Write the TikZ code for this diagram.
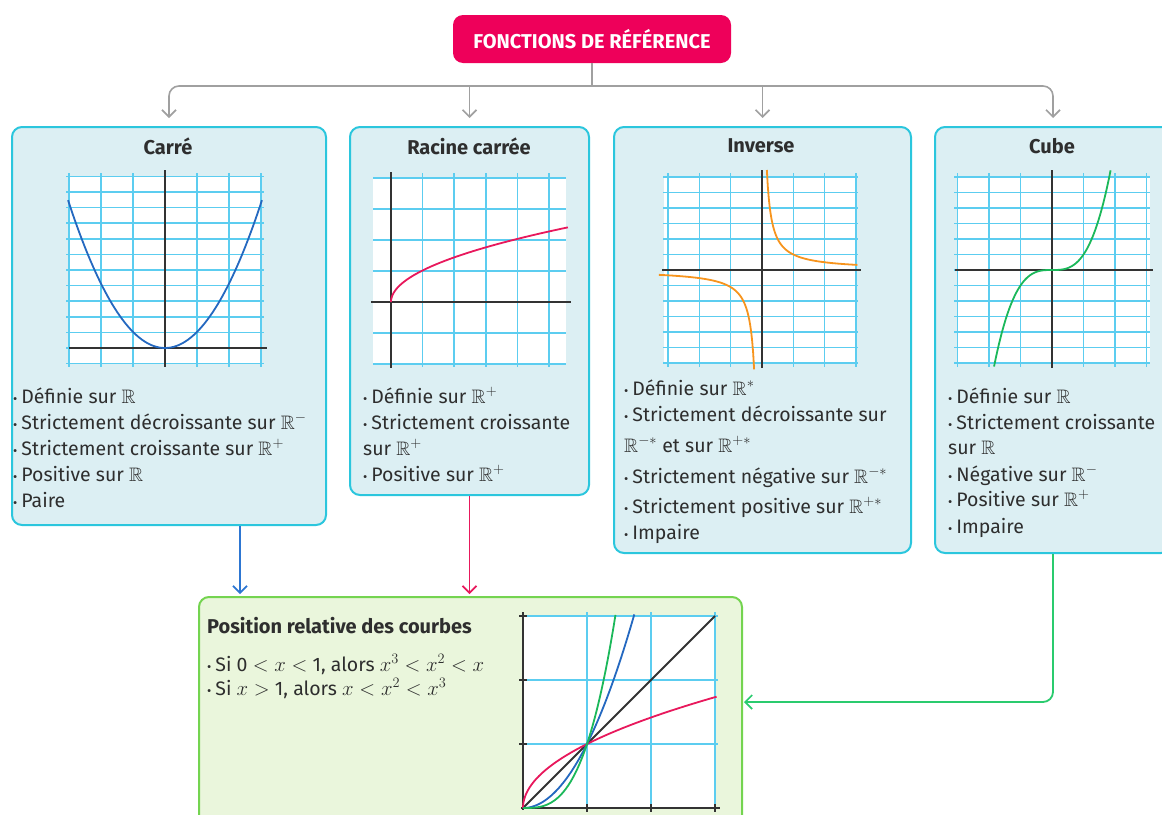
\documentclass[tikz,border=0pt]{standalone}
\usepackage{fontspec}
\usepackage{amssymb}
\setmainfont{Fira Sans}
\usetikzlibrary{arrows.meta}
\definecolor{titlered}{HTML}{EE005A}
\definecolor{boxfill}{HTML}{DCEFF3}
\definecolor{boxborder}{HTML}{2BC6DD}
\definecolor{gfill}{HTML}{EAF6DC}
\definecolor{gborder}{HTML}{74D450}
\definecolor{gridc}{HTML}{5CCDF0}
\definecolor{axisc}{HTML}{333333}
\definecolor{cblue}{HTML}{2468C0}
\definecolor{ablue}{HTML}{2D76D2}
\definecolor{cred}{HTML}{E8185C}
\definecolor{corange}{HTML}{F7941D}
\definecolor{cgreen}{HTML}{1BB85A}
\definecolor{agreen}{HTML}{2ACB6E}
\definecolor{textc}{HTML}{2E2E2E}
\definecolor{connc}{HTML}{A0A0A0}
\newcommand\bul{{\fontsize{13}{13}\selectfont\textbullet}\hspace{4pt}}
\begin{document}
\begin{tikzpicture}[x=1pt,y=-1pt,
  fbox/.style={draw=boxborder, fill=boxfill, line width=2pt, rounded corners=10pt, anchor=north west, inner sep=0pt},
  gbox/.style={draw=gborder, fill=gfill, line width=2pt, rounded corners=10pt, anchor=north west, inner sep=0pt},
  ttl/.style={font=\fontsize{20}{22}\selectfont\bfseries, text=textc, inner sep=0pt},
  lst/.style={font=\fontsize{19.5}{24}\selectfont, text=textc, inner sep=0pt, anchor=base west},
  gridl/.style={draw=gridc, line width=1.5pt},
  axisl/.style={draw=axisc, line width=1.8pt},
  curve/.style={line width=1.8pt},
  conn/.style={draw=connc, line width=1.6pt},
  tipc/.style={-{Straight Barb[length=7pt,width=14pt,line width=1.7pt]}},
]
\useasboundingbox (0,0) rectangle (1162,814);

% ---------- title ----------
\node[fill=titlered, rounded corners=10pt, minimum width=278pt, minimum height=48pt,
      text=white, font=\fontsize{20}{22}\selectfont\bfseries, inner sep=0pt] (title) at (592,39) {FONCTIONS DE RÉFÉRENCE};

% ---------- boxes ----------
\node[fbox, minimum width=314pt, minimum height=398pt] (carre) at (11,126) {};
\node[fbox, minimum width=239pt, minimum height=368pt] (racine) at (349,126) {};
\node[fbox, minimum width=297pt, minimum height=426pt] (inverse) at (613,126) {};
\node[fbox, minimum width=236pt, minimum height=426pt] (cube) at (934,126) {};
\node[gbox, minimum width=543pt, minimum height=240pt] (bottom) at (198,596) {};

% ---------- connectors ----------
\coordinate (hub) at (592,86);
\coordinate (bx) at (240,0);
\coordinate (gy) at (0,702);
\draw[conn] (title.south) -- (hub);
\draw[conn, tipc, rounded corners=10pt, shorten >=8pt] (hub) -| (carre.north);
\draw[conn, tipc, rounded corners=10pt, shorten >=8pt] (hub) -| (cube.north);
\draw[conn, tipc, shorten >=8pt] (racine.north |- hub) -- (racine.north);
\draw[conn, tipc, shorten >=8pt] (inverse.north |- hub) -- (inverse.north);
\draw[draw=ablue, line width=1.8pt, tipc, shorten >=2pt] (carre.south -| bx) -- (bottom.north -| bx);
\draw[draw=cred, line width=1.8pt, tipc, shorten >=2pt] (racine.south) -- (bottom.north -| racine.south);
\draw[draw=agreen, line width=1.8pt, tipc, rounded corners=10pt, shorten >=1pt] (cube.south) |- (bottom.east |- gy);

% ---------- box titles ----------
\node[ttl] (carreT) at (168,146) {Carré};
\node[ttl] (racineT) at (469,146) {Racine carrée};
\node[ttl] (inverseT) at (761,146) {Inverse};
\node[ttl] (cubeT) at (1052,146) {Cube};

% ---------- graph: carre ----------
\fill[white] (69,177) rectangle (261,364);
\foreach \i in {-3,...,3} \draw[gridl] ({165+32*\i},173) -- ({165+32*\i},367);
\foreach \j in {-1,...,11} \draw[gridl] (66,{348-15.6*\j}) -- (264,{348-15.6*\j});
\draw[axisl] (165,170) -- (165,367);
\draw[axisl] (69,348) -- (267,348);
\draw[curve, cblue] plot[domain=-3.03:3.03, samples=80] ({165+32*\x},{348-16.1*\x*\x});

% ---------- graph: racine ----------
\fill[white] (373,177) rectangle (566,364);
\foreach \i in {0,...,5} \draw[gridl] ({391+31.6*\i},173) -- ({391+31.6*\i},367);
\foreach \j in {-2,...,4} \draw[gridl] (373,{302-31*\j}) -- (566,{302-31*\j});
\draw[axisl] (391,172) -- (391,368);
\draw[axisl] (371,302) -- (571,302);
\draw[curve, cred] plot[domain=0:2.37, samples=60] ({391+31.5*\x*\x},{302-31.5*\x});

% ---------- graph: inverse ----------
\fill[white] (664,177) rectangle (857,363);
\foreach \i in {-3,...,3} \draw[gridl] ({762+31.3*\i},173) -- ({762+31.3*\i},367);
\foreach \j in {-6,...,6} \draw[gridl] (663,{270-15.5*\j}) -- (858,{270-15.5*\j});
\draw[axisl] (762,170) -- (762,368);
\draw[axisl] (662,270) -- (861,270);
\draw[curve, corange] plot[domain=0.155:3.05, samples=100] ({762+31.3*\x},{270-15.5/\x});
\draw[curve, corange] plot[domain=-3.2:-0.155, samples=100] ({759+31.3*\x},{270-15.5/\x});

% ---------- graph: cube ----------
\fill[white] (957,177) rectangle (1150,363);
\foreach \i in {-3,...,3} \draw[gridl] ({1052+31.5*\i},173) -- ({1052+31.5*\i},367);
\foreach \j in {-6,...,6} \draw[gridl] (954,{270-15.5*\j}) -- (1150,{270-15.5*\j});
\draw[axisl] (1052,170) -- (1052,368);
\draw[axisl] (955,270) -- (1153,270);
\draw[curve, cgreen] plot[domain=-1.84:1.86, samples=80] ({1052+31.5*\x},{270-15.5*\x*\x*\x});

% ---------- lists ----------
\node[lst] (c1) at (13,403) {\bul Définie sur $\mathbb{R}$};
\node[lst] (c2) at (13,429) {\bul Strictement décroissante sur $\mathbb{R}^{-}$};
\node[lst] (c3) at (13,455) {\bul Strictement croissante sur $\mathbb{R}^{+}$};
\node[lst] (c4) at (13,481) {\bul Positive sur $\mathbb{R}$};
\node[lst] (c5) at (13,507) {\bul Paire};

\node[lst] (r1) at (363,403) {\bul Définie sur $\mathbb{R}^{+}$};
\node[lst] (r2) at (363,429) {\bul Strictement croissante};
\node[lst] (r3) at (363,455) {sur $\mathbb{R}^{+}$};
\node[lst] (r4) at (363,481) {\bul Positive sur $\mathbb{R}^{+}$};

\node[lst] (i1) at (624,395) {\bul Définie sur $\mathbb{R}^{*}$};
\node[lst] (i2) at (624,421) {\bul Strictement décroissante sur};
\node[lst] (i3) at (624,452) {$\mathbb{R}^{-*}$ et sur $\mathbb{R}^{+*}$};
\node[lst] (i4) at (624,483) {\bul Strictement négative sur $\mathbb{R}^{-*}$};
\node[lst] (i5) at (624,513) {\bul Strictement positive sur $\mathbb{R}^{+*}$};
\node[lst] (i6) at (624,539) {\bul Impaire};

\node[lst] (k1) at (948,403) {\bul Définie sur $\mathbb{R}$};
\node[lst] (k2) at (948,429) {\bul Strictement croissante};
\node[lst] (k3) at (948,454) {sur $\mathbb{R}$};
\node[lst] (k4) at (948,481) {\bul Négative sur $\mathbb{R}^{-}$};
\node[lst] (k5) at (948,506) {\bul Positive sur $\mathbb{R}^{+}$};
\node[lst] (k6) at (948,533) {\bul Impaire};

% ---------- bottom box ----------
\node[lst, font=\fontsize{20}{24}\selectfont\bfseries] (bT) at (207,633) {Position relative des courbes};
\node[lst] (b1) at (207,671) {\bul Si 0 $<x<$ 1, alors $x^{3}<x^{2}<x$};
\node[lst] (b2) at (207,695) {\bul Si $x>$ 1, alors $x<x^{2}<x^{3}$};

\fill[white] (523,616) rectangle (715,808);
\foreach \i in {1,2,3} \draw[gridl] ({523+64*\i},612) -- ({523+64*\i},808);
\foreach \j in {1,2,3} \draw[gridl] (523,{808-64*\j}) -- (718,{808-64*\j});
\draw[axisl] (523,612) -- (523,810);
\draw[axisl] (521,808) -- (720,808);
\foreach \i in {1,2,3} {
  \draw[axisl, line width=1.2pt] ({523+64*\i},804) -- ({523+64*\i},812);
  \draw[axisl, line width=1.2pt] (519,{808-64*\i}) -- (527,{808-64*\i});
}
\draw[curve, axisc] (523,808) -- (715,616);
\draw[curve, cred] plot[domain=0:1.74, samples=60] ({523+64*\x*\x},{808-64*\x});
\draw[curve, cblue] plot[domain=0:1.74, samples=60] ({523+64*\x},{808-64*\x*\x});
\draw[curve, cgreen] plot[domain=0:1.445, samples=60] ({523+64*\x},{808-64*\x*\x*\x});
\end{tikzpicture}
\end{document}
